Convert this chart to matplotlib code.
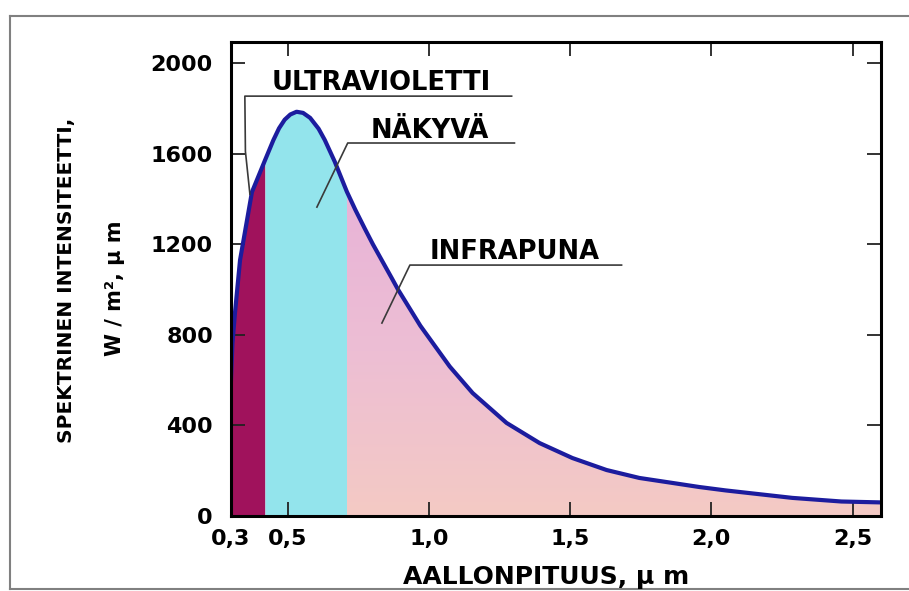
import matplotlib
matplotlib.use("Agg")
import matplotlib.pyplot as plt
import numpy as np
from matplotlib.colors import LinearSegmentedColormap
from matplotlib.patches import Polygon
from matplotlib.lines import Line2D

plt.rcParams['font.family'] = ['DejaVu Sans']
plt.rcParams['font.weight'] = 'bold'

# spectrum (wavelength um, W/m2 um)
wavelength = [0.30, 0.305, 0.314, 0.332, 0.374, 0.42, 0.45, 0.47, 0.49, 0.51, 0.532,
              0.555, 0.58, 0.61, 0.632, 0.667, 0.71, 0.74, 0.773, 0.802, 0.869, 0.891,
              0.97, 1.074, 1.155, 1.275, 1.392, 1.508, 1.629, 1.745, 1.862, 1.957,
              2.05, 2.286, 2.46, 2.6]
intensity = [600, 760, 896, 1130, 1430, 1570, 1660, 1712, 1750, 1773, 1785,
             1780, 1758, 1710, 1660, 1565, 1432, 1352, 1270, 1200, 1050, 1000,
             840, 660, 543, 411, 322, 256, 203, 168, 146, 128,
             113, 80, 64, 60]

uv_end = 0.42
vis_end = 0.71

x_ticks = [0.3, 0.5, 1.0, 1.5, 2.0, 2.5]
x_tick_labels = ['0,3', '0,5', '1,0', '1,5', '2,0', '2,5']
y_ticks = [0, 400, 800, 1200, 1600, 2000]

# band labels: text position, underline end, leader line points
band_names = ['ULTRAVIOLETTI', 'NÄKYVÄ', 'INFRAPUNA']
band_text_xy = [(0.83, 1914), (1.003, 1700), (1.303, 1166)]
band_line_x = [[1.293, 0.349, 0.351, 0.367], [1.303, 0.713, 0.604], [1.682, 0.933, 0.834]]
band_line_y = [[1854, 1854, 1610, 1420], [1647, 1647, 1364], [1108, 1108, 852]]

x = np.array(wavelength)
y = np.array(intensity)

fig = plt.figure(figsize=(9.09, 5.91), dpi=100)
ax = fig.add_axes([231 / 909, 1 - 516 / 591, 650 / 909, 474 / 591])
ax.set_xlim(0.3, 2.6)
ax.set_ylim(0, 2093)

ax.fill_between(x, 0, y, where=x <= uv_end, color='#a0125c', lw=0, zorder=1)
ax.fill_between(x, 0, y, where=(x >= uv_end) & (x <= vis_end), color='#93e4ec', lw=0, zorder=1)

# infrared part with a soft vertical gradient
ir = x >= vis_end
verts = np.column_stack([np.concatenate([x[ir], [x[ir][-1], x[ir][0]]]),
                         np.concatenate([y[ir], [0, 0]])])
poly = Polygon(verts, closed=True, facecolor='none', edgecolor='none')
ax.add_patch(poly)
cmap = LinearSegmentedColormap.from_list('ir', ['#f4cac4', '#edbed4', '#e8b3d8'])
grad = np.linspace(0, 1, 256).reshape(-1, 1)
im = ax.imshow(grad, extent=(vis_end, 2.6, 0, 1450), origin='lower', aspect='auto',
               cmap=cmap, zorder=1)
im.set_clip_path(poly)

ax.plot(x, y, color='#1c1c9e', lw=3, zorder=3, solid_joinstyle='round')

for name, (tx, ty), lx, ly in zip(band_names, band_text_xy, band_line_x, band_line_y):
    ax.text(tx, ty, name, ha='center', va='center', fontsize=18.5, fontweight='bold', zorder=4)
    ax.plot(lx, ly, color='#3a3a3a', lw=1.2, zorder=4)

ax.set_xticks(x_ticks)
ax.set_xticklabels(x_tick_labels)
ax.set_yticks(y_ticks)
ax.tick_params(direction='in', length=10, width=1.3, top=True, right=True,
               labelsize=16, color='#222222')
ax.tick_params(axis='y', pad=13)
ax.tick_params(axis='x', pad=9)
for lab in ax.get_xticklabels() + ax.get_yticklabels():
    lab.set_fontweight('bold')
for s in ax.spines.values():
    s.set_linewidth(2.2)
    s.set_zorder(5)

fig.text(546 / 909, 1 - 577 / 591, 'AALLONPITUUS, µ m', ha='center', va='center',
         fontsize=18, fontweight='bold')
fig.text(67 / 909, 1 - 280 / 591, 'SPEKTRINEN INTENSITEETTI,', ha='center', va='center',
         rotation=90, fontsize=14.5, fontweight='bold')
fig.text(115 / 909, 1 - 288 / 591, 'W / m², µ m', ha='center', va='center',
         rotation=90, fontsize=15, fontweight='bold')

# scanned page frame
frame_kw = dict(color='#808080', lw=1.5, transform=fig.transFigure)
fig.add_artist(Line2D([10 / 909, 10 / 909], [1 - 589 / 591, 1 - 16 / 591], **frame_kw))
fig.add_artist(Line2D([10 / 909, 1.0], [1 - 16 / 591, 1 - 16 / 591], **frame_kw))
fig.add_artist(Line2D([10 / 909, 1.0], [1 - 589 / 591, 1 - 589 / 591], **frame_kw))

fig.savefig('out.png', dpi=100)
